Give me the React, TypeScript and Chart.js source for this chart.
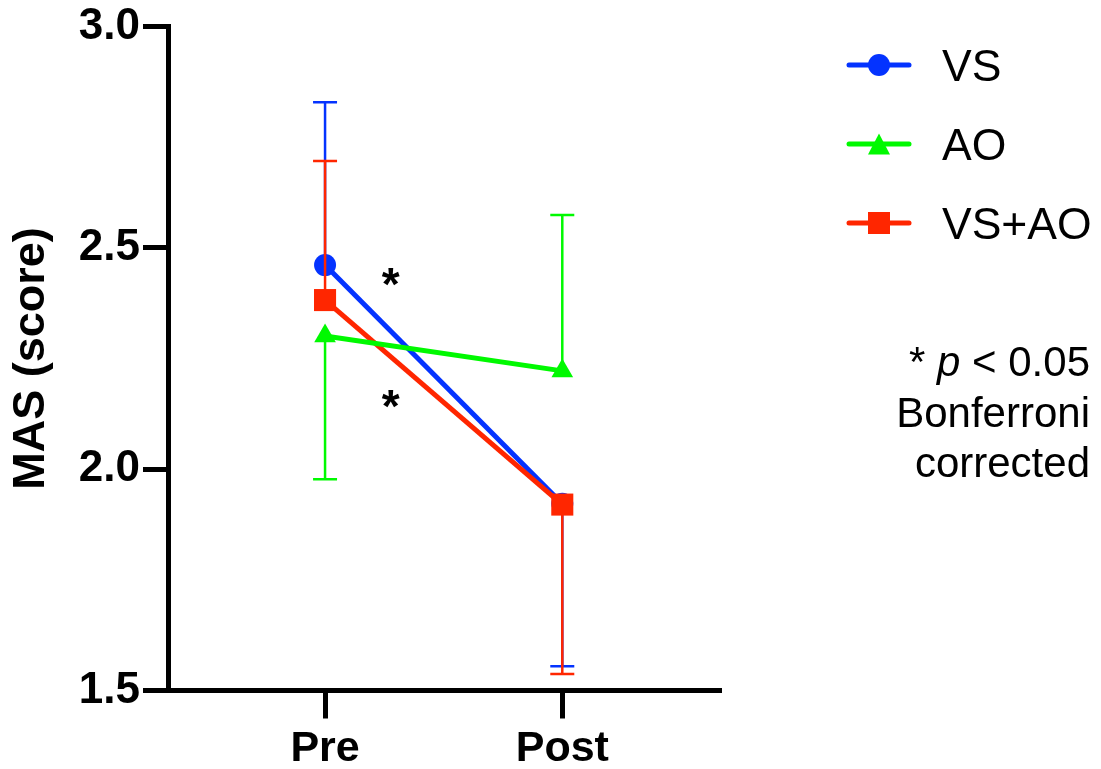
import React, { useEffect, useRef } from "react";
import { Chart, registerables } from "chart.js";

Chart.register(...registerables);

// ---------------- data ----------------
const categories = ["Pre", "Post"];
const categoryX = [1, 2];
const seriesNames = ["VS", "AO", "VS+AO"];
const vsMean = [2.461, 1.922];
const aoMean = [2.301, 2.222];
const vsaoMean = [2.382, 1.92];
const vsSD = [0.368, 0.367];
const aoSD = [0.324, 0.352];
const vsaoSD = [0.314, 0.383];
// direction in which each error bar is drawn (+1 up, -1 down)
const vsErrDir = [1, -1];
const aoErrDir = [-1, 1];
const vsaoErrDir = [1, -1];
const yTicks = [1.5, 2.0, 2.5, 3.0];
const starX = [1.277, 1.277];
const starY = [2.4325, 2.1556];
const noteLines = ["* p < 0.05", "Bonferroni", "corrected"];

// ---------------- styles ----------------
const FONT = "'Liberation Sans', Arial, Helvetica, sans-serif";
const BLUE = "#0433FF";
const GREEN = "#00F900";
const RED = "#FF2600";

const seriesStyle = [
  { color: BLUE, marker: "circle", radius: 11, order: 3 },
  { color: GREEN, marker: "triangle", radius: 12.5, order: 1 },
  { color: RED, marker: "rect", radius: 15.6, order: 2 },
];
const seriesMeans = [vsMean, aoMean, vsaoMean];
const seriesSD = [vsSD, aoSD, vsaoSD];
const seriesDir = [vsErrDir, aoErrDir, vsaoErrDir];

function drawMarker(ctx: CanvasRenderingContext2D, marker: string, x: number, y: number, color: string) {
  ctx.save();
  ctx.fillStyle = color;
  ctx.beginPath();
  if (marker === "circle") {
    ctx.arc(x, y, 11, 0, Math.PI * 2);
  } else if (marker === "rect") {
    ctx.rect(x - 11, y - 11, 22, 22);
  } else {
    ctx.moveTo(x, y - 10.5);
    ctx.lineTo(x + 11, y + 10.5);
    ctx.lineTo(x - 11, y + 10.5);
    ctx.closePath();
  }
  ctx.fill();
  ctx.restore();
}

const errorBarPlugin = {
  id: "errorBars",
  beforeDatasetDraw(chart: any, args: any) {
    const i = args.index;
    const ctx: CanvasRenderingContext2D = chart.ctx;
    const xs = chart.scales.x;
    const ys = chart.scales.y;
    const means = seriesMeans[i];
    const sds = seriesSD[i];
    const dirs = seriesDir[i];
    ctx.save();
    ctx.strokeStyle = seriesStyle[i].color;
    ctx.lineWidth = 2.5;
    for (let k = 0; k < means.length; k++) {
      const px = xs.getPixelForValue(categoryX[k]);
      const p0 = ys.getPixelForValue(means[k]);
      const p1 = ys.getPixelForValue(means[k] + dirs[k] * sds[k]);
      ctx.beginPath();
      ctx.moveTo(px, p0);
      ctx.lineTo(px, p1);
      ctx.moveTo(px - 12, p1);
      ctx.lineTo(px + 12, p1);
      ctx.stroke();
    }
    ctx.restore();
  },
};

const annotationPlugin = {
  id: "annotations",
  afterDraw(chart: any) {
    const ctx: CanvasRenderingContext2D = chart.ctx;
    const xs = chart.scales.x;
    const ys = chart.scales.y;
    ctx.save();
    // significance stars
    ctx.fillStyle = "#000";
    ctx.font = `bold 46px ${FONT}`;
    ctx.textAlign = "center";
    ctx.textBaseline = "alphabetic";
    for (let k = 0; k < starX.length; k++) {
      const px = xs.getPixelForValue(starX[k]);
      const py = ys.getPixelForValue(starY[k]);
      ctx.fillText("*", px, py + 22);
    }
    // legend
    const legendY = [65, 144, 223];
    for (let i = 0; i < seriesNames.length; i++) {
      const st = seriesStyle[i];
      const y = legendY[i];
      ctx.strokeStyle = st.color;
      ctx.lineWidth = 5;
      ctx.lineCap = "round";
      ctx.beginPath();
      ctx.moveTo(849, y);
      ctx.lineTo(909, y);
      ctx.stroke();
      drawMarker(ctx, st.marker, 879, y, st.color);
      ctx.fillStyle = "#000";
      ctx.font = `44.5px ${FONT}`;
      ctx.textAlign = "left";
      ctx.textBaseline = "alphabetic";
      ctx.fillText(seriesNames[i], 942, y + 16);
    }
    // note
    const right = 1090;
    const baselines = [376, 427, 477];
    const fs = 42;
    ctx.fillStyle = "#000";
    ctx.textAlign = "left";
    // first line: "* " + italic "p" + " < 0.05"
    const first = noteLines[0];
    const pIdx = first.indexOf("p");
    const pre = first.slice(0, pIdx);
    const pch = first.slice(pIdx, pIdx + 1);
    const post = first.slice(pIdx + 1);
    ctx.font = `${fs}px ${FONT}`;
    const wPost = ctx.measureText(post).width;
    const wPre = ctx.measureText(pre).width;
    ctx.font = `italic ${fs}px ${FONT}`;
    const wP = ctx.measureText(pch).width;
    let x = right - wPost - wP - wPre;
    ctx.font = `${fs}px ${FONT}`;
    ctx.fillText(pre, x, baselines[0]);
    x += wPre;
    ctx.font = `italic ${fs}px ${FONT}`;
    ctx.fillText(pch, x, baselines[0]);
    x += wP;
    ctx.font = `${fs}px ${FONT}`;
    ctx.fillText(post, x, baselines[0]);
    ctx.textAlign = "right";
    for (let l = 1; l < noteLines.length; l++) {
      ctx.fillText(noteLines[l], right, baselines[l]);
    }
    ctx.restore();
  },
};

export default function App() {
  const ref = useRef<HTMLCanvasElement>(null);
  useEffect(() => {
    const canvas = ref.current;
    if (!canvas) return;
    Chart.defaults.font.family = FONT;
    const datasets = seriesNames.map((name, i) => ({
      label: name,
      data: categoryX.map((x, k) => ({ x, y: seriesMeans[i][k] })),
      borderColor: seriesStyle[i].color,
      backgroundColor: seriesStyle[i].color,
      borderWidth: 5,
      pointStyle: seriesStyle[i].marker as any,
      pointRadius: seriesStyle[i].radius,
      pointBorderWidth: 0,
      pointBackgroundColor: seriesStyle[i].color,
      pointBorderColor: seriesStyle[i].color,
      tension: 0,
      order: seriesStyle[i].order,
      clip: false as any,
    }));
    const chart = new Chart(canvas, {
      type: "line",
      data: { datasets },
      options: {
        responsive: false,
        animation: false,
        events: [],
        layout: { padding: { top: 26.5, right: 380, bottom: 0, left: 0 } },
        plugins: {
          legend: { display: false },
          tooltip: { enabled: false },
        },
        scales: {
          x: {
            type: "linear",
            min: 0.338,
            max: 2.669,
            afterBuildTicks: (scale: any) => {
              scale.ticks = categoryX.map((v) => ({ value: v }));
            },
            afterFit: (scale: any) => {
              scale.height = 78.5;
            },
            ticks: {
              callback: (v: any) => {
                const idx = categoryX.indexOf(Number(v));
                return idx >= 0 ? categories[idx] : "";
              },
              color: "#000",
              font: { size: 43, weight: "bold", family: FONT },
              padding: 5,
              maxRotation: 0,
              autoSkip: false,
            },
            grid: {
              drawOnChartArea: false,
              drawTicks: true,
              tickLength: 28,
              tickWidth: 5,
              color: "#000",
            },
            border: { display: true, color: "#000", width: 5 },
          },
          y: {
            type: "linear",
            min: 1.5,
            max: 3.0,
            afterBuildTicks: (scale: any) => {
              scale.ticks = yTicks.map((v) => ({ value: v }));
            },
            afterFit: (scale: any) => {
              scale.width = 168;
              scale.paddingTop = 0;
              scale.paddingBottom = 0;
            },
            ticks: {
              callback: (v: any) => Number(v).toFixed(1),
              color: "#000",
              font: { size: 44, weight: "bold", family: FONT, lineHeight: 1 },
              padding: 3,
            },
            grid: {
              drawOnChartArea: false,
              drawTicks: true,
              tickLength: 25,
              tickWidth: 5,
              color: "#000",
            },
            border: { display: true, color: "#000", width: 5 },
            title: {
              display: true,
              text: "MAS (score)",
              color: "#000",
              font: { size: 45, weight: "bold", family: FONT },
              padding: { top: 5, bottom: 0 },
            },
          },
        },
      },
      plugins: [errorBarPlugin, annotationPlugin],
    });
    return () => chart.destroy();
  }, []);
  return (
    <div style={{ position: "absolute", left: 0, top: 0, width: 1101, height: 769, background: "#fff" }}>
      <canvas ref={ref} width={1101} height={769} style={{ width: 1101, height: 769, display: "block" }} />
    </div>
  );
}
